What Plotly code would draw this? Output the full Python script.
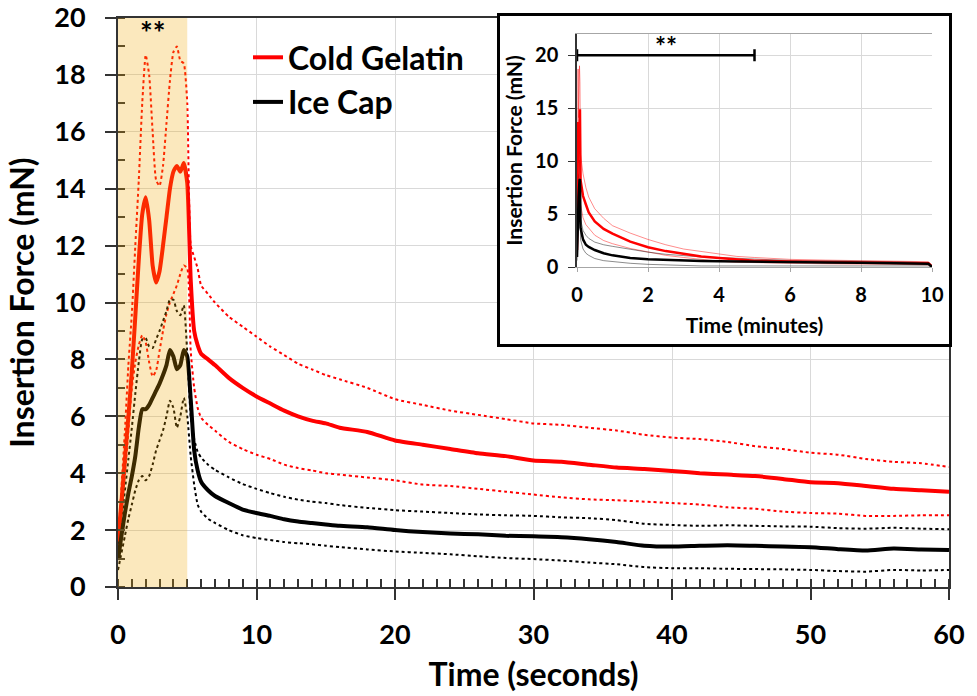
import plotly.graph_objects as go

# ---------------- main chart data (time in seconds) ----------------
time_s = [0, 0.25, 0.5, 0.75, 1.0, 1.25, 1.5, 1.75, 2.0, 2.25, 2.5, 2.75, 3.0, 3.25, 3.5, 3.75,
          4.0, 4.25, 4.5, 4.75, 5.0, 5.25, 5.5, 5.75, 6.0,
          6.5, 7, 8, 9, 10, 11, 12, 13, 14, 15, 16,
          18, 20, 22, 24, 26, 28, 30, 32, 34, 36, 38, 40, 42, 44, 46, 48, 50, 52, 54, 56, 58, 60]

cold_mean = [1.6, 3.0, 4.5, 6.0, 7.6, 9.5, 11.5, 13.1, 13.7, 12.9, 11.3, 10.7, 11.1, 12.0, 13.0, 14.0,
             14.6, 14.8, 14.6, 14.9, 14.2, 10.8, 9.0, 8.5, 8.2,
             8.0, 7.8, 7.35, 7.0, 6.7, 6.45, 6.2, 6.0, 5.85, 5.75, 5.6,
             5.45, 5.15, 5.0, 4.85, 4.7, 4.6, 4.45, 4.4, 4.3, 4.2, 4.15, 4.08, 4.0, 3.95, 3.9, 3.8,
             3.68, 3.65, 3.55, 3.45, 3.4, 3.35]
cold_upper = [1.5, 3.5, 5.5, 7.8, 9.6, 12.0, 14.3, 17.0, 18.7, 18.0, 16.0, 14.3, 14.1, 14.8, 16.3, 17.8,
              18.8, 19.0, 18.5, 18.4, 17.0, 12.0, 11.6, 11.2, 10.6,
              10.3, 10.0, 9.5, 9.15, 8.8, 8.45, 8.15, 7.85, 7.65, 7.45, 7.3,
              7.0, 6.6, 6.4, 6.2, 6.05, 5.9, 5.75, 5.7, 5.6, 5.5, 5.35, 5.25, 5.2, 5.1, 4.95, 4.85,
              4.72, 4.65, 4.5, 4.4, 4.35, 4.22]
cold_lower = [1.2, 2.5, 4.0, 5.5, 7.0, 7.9, 8.5, 8.85, 8.6, 7.9, 7.4, 7.6, 8.3, 9.0, 9.6, 10.0,
              10.3, 10.6, 11.0, 11.3, 11.2, 8.3, 7.0, 6.3, 5.95,
              5.7, 5.5, 5.1, 4.85, 4.65, 4.5, 4.3, 4.18, 4.1, 4.0, 3.95,
              3.85, 3.75, 3.6, 3.55, 3.45, 3.35, 3.25, 3.15, 3.08, 3.05, 3.0, 2.95, 2.9, 2.8, 2.75, 2.65,
              2.6, 2.58, 2.5, 2.5, 2.52, 2.52]
ice_mean = [0.95, 1.8, 2.6, 3.3, 3.9, 4.6, 5.6, 6.25, 6.25, 6.4, 6.65, 6.9, 7.15, 7.45, 7.8, 8.33,
            8.1, 7.65, 7.8, 8.33, 8.1, 6.6, 4.8, 4.1, 3.7,
            3.4, 3.2, 2.95, 2.72, 2.6, 2.5, 2.38, 2.3, 2.25, 2.2, 2.15,
            2.1, 2.0, 1.93, 1.88, 1.85, 1.8, 1.78, 1.75, 1.68, 1.58, 1.45, 1.42, 1.45, 1.47, 1.45, 1.42,
            1.4, 1.33, 1.28, 1.35, 1.32, 1.3]
ice_upper = [1.3, 2.3, 3.4, 4.5, 5.6, 6.8, 7.9, 8.7, 8.75, 8.45, 8.4, 8.7, 9.0, 9.35, 9.7, 10.1,
             10.1, 9.7, 9.55, 9.9, 8.2, 6.0, 5.2, 4.75, 4.55,
             4.3, 4.12, 3.85, 3.62, 3.45, 3.3, 3.17, 3.07, 3.0, 2.95, 2.88,
             2.78, 2.7, 2.65, 2.6, 2.55, 2.52, 2.5, 2.45, 2.42, 2.35, 2.22, 2.18, 2.15, 2.17, 2.15, 2.13,
             2.12, 2.07, 2.05, 2.08, 2.05, 2.03]
ice_lower = [0.6, 1.2, 1.8, 2.4, 2.9, 3.4, 3.75, 3.9, 3.75, 3.9, 4.3, 4.8, 5.15, 5.5, 6.0, 6.55,
             6.3, 5.6, 6.0, 6.65, 6.0, 4.6, 3.6, 2.9, 2.65,
             2.4, 2.25, 2.0, 1.82, 1.72, 1.65, 1.58, 1.54, 1.5, 1.45, 1.4,
             1.32, 1.25, 1.2, 1.15, 1.08, 1.02, 0.98, 0.93, 0.86, 0.8, 0.7, 0.66, 0.66, 0.64, 0.63, 0.62,
             0.6, 0.56, 0.54, 0.6, 0.58, 0.6]

# ---------------- inset data (time in minutes) ----------------
time_min = [0, 0.03, 0.045, 0.07, 0.083, 0.1, 0.17, 0.25, 0.33, 0.5, 0.75, 1.0, 1.5, 2.0, 2.5,
            3.0, 3.5, 4.0, 4.5, 5.0, 6, 7, 8, 9, 9.9, 10]
in_cold_mean = [1.6, 13.7, 10.8, 14.6, 14.9, 8.2, 6.7, 5.9, 5.15, 4.3, 3.6, 3.15, 2.4, 1.87, 1.5,
                1.25, 1.0, 0.85, 0.7, 0.6, 0.52, 0.48, 0.45, 0.4, 0.35, 0.05]
in_cold_upper = [1.5, 18.7, 14.1, 19.0, 17.5, 10.6, 8.8, 7.5, 6.6, 5.5, 4.6, 3.9, 3.2, 2.6, 2.1,
                 1.7, 1.45, 1.2, 1.0, 0.9, 0.72, 0.65, 0.6, 0.55, 0.5, 0.1]
in_cold_lower = [1.2, 8.85, 7.4, 10.3, 11.3, 5.9, 4.65, 4.0, 3.7, 3.0, 2.5, 2.2, 1.75, 1.4, 1.1,
                 0.9, 0.7, 0.55, 0.45, 0.4, 0.35, 0.3, 0.3, 0.25, 0.2, 0.0]
in_ice_mean = [0.95, 6.25, 6.6, 8.2, 8.3, 3.7, 2.6, 2.1, 1.9, 1.6, 1.3, 1.1, 0.85, 0.72, 0.65,
               0.6, 0.57, 0.55, 0.52, 0.5, 0.45, 0.42, 0.4, 0.35, 0.3, 0.0]
in_ice_upper = [1.3, 8.75, 8.4, 10.1, 9.9, 4.5, 3.45, 3.0, 2.7, 2.35, 2.1, 1.95, 1.65, 1.4, 1.2,
                1.05, 0.95, 0.9, 0.8, 0.75, 0.62, 0.58, 0.55, 0.5, 0.4, 0.05]
in_ice_lower = [0.6, 3.8, 4.3, 6.4, 6.6, 2.6, 1.7, 1.3, 1.1, 0.8, 0.6, 0.5, 0.35, 0.25, 0.18,
                0.12, 0.1, 0.1, 0.1, 0.1, 0.1, 0.12, 0.15, 0.12, 0.1, 0.0]

sig_center_min = [2.5]
sig_level = [20]
sig_half_span = [2.5]

main_x_ticks = [0, 10, 20, 30, 40, 50, 60]
main_y_ticks = [0, 2, 4, 6, 8, 10, 12, 14, 16, 18, 20]
inset_x_ticks = [0, 2, 4, 6, 8, 10]
inset_y_ticks = [0, 5, 10, 15, 20]

RED = "#FF0000"
BLACK = "#000000"
FONT = "Lato"

fig = go.Figure()

spl = dict(shape="spline", smoothing=0.5)
fig.add_trace(go.Scatter(x=time_s, y=cold_upper, mode="lines", showlegend=False,
                         line=dict(color=RED, width=2, dash="dot", **spl)))
fig.add_trace(go.Scatter(x=time_s, y=cold_lower, mode="lines", showlegend=False,
                         line=dict(color=RED, width=2, dash="dot", **spl)))
fig.add_trace(go.Scatter(x=time_s, y=ice_upper, mode="lines", showlegend=False,
                         line=dict(color=BLACK, width=2, dash="dot", **spl)))
fig.add_trace(go.Scatter(x=time_s, y=ice_lower, mode="lines", showlegend=False,
                         line=dict(color=BLACK, width=2, dash="dot", **spl)))
fig.add_trace(go.Scatter(x=time_s, y=cold_mean, mode="lines", name="Cold Gelatin",
                         line=dict(color=RED, width=4, **spl)))
fig.add_trace(go.Scatter(x=time_s, y=ice_mean, mode="lines", name="Ice Cap",
                         line=dict(color=BLACK, width=4, **spl)))

for ys, col, w in [(in_cold_upper, "rgba(255,0,0,0.45)", 1),
                   (in_cold_lower, "rgba(255,0,0,0.45)", 1),
                   (in_ice_upper, "rgba(0,0,0,0.45)", 1),
                   (in_ice_lower, "rgba(0,0,0,0.45)", 1),
                   (in_cold_mean, RED, 2.5),
                   (in_ice_mean, BLACK, 2.5)]:
    fig.add_trace(go.Scatter(x=time_min, y=ys, mode="lines", showlegend=False,
                             line=dict(color=col, width=w), xaxis="x3", yaxis="y3"))

fig.add_trace(go.Scatter(x=sig_center_min, y=sig_level, mode="markers", showlegend=False,
                         marker=dict(size=1, color="rgba(0,0,0,0)"),
                         error_x=dict(type="data", array=sig_half_span, color=BLACK,
                                      thickness=2.5, width=6),
                         xaxis="x3", yaxis="y3"))
fig.add_trace(go.Scatter(x=[None], y=[None], showlegend=False, xaxis="x2", yaxis="y2"))

W, H = 977, 696
ML, MR, MT, MB = 118, 20, 10, 109
pw, ph = W - ML - MR, H - MT - MB


def dx(px):
    return (px - ML) / pw


def dy(px):
    return (H - MB - px) / ph


tickfont = dict(family=FONT, size=27, color="black", weight="bold")
titlefont = dict(family=FONT, size=32, color="black", weight="bold")
in_tickfont = dict(family=FONT, size=20, color="black", weight="bold")
in_titlefont = dict(family=FONT, size=21, color="black", weight="bold")

fig.update_layout(
    width=W, height=H,
    margin=dict(l=ML, r=MR, t=MT, b=MB, autoexpand=False),
    paper_bgcolor="white", plot_bgcolor="white",
    font=dict(family=FONT, color="black"),
    xaxis=dict(domain=[0, dx(949)], range=[0, 60], tickvals=main_x_ticks, automargin=False,
               showgrid=True, gridcolor="#d9d9d9", gridwidth=1,
               showline=True, linecolor="#333", linewidth=2, mirror=True,
               ticks="outside", ticklen=11, tickwidth=2, tickcolor="#333",
               minor=dict(dtick=1, ticks="inside", ticklen=8, tickwidth=1.5, tickcolor="#333", showgrid=False),
               tickfont=tickfont, ticklabelstandoff=12, zeroline=False,
               title=dict(text="Time (seconds)", font=titlefont, standoff=14)),
    yaxis=dict(domain=[0, dy(18)], range=[0, 20], tickvals=main_y_ticks, automargin=False,
               showgrid=True, gridcolor="#d9d9d9", gridwidth=1,
               showline=True, linecolor="#333", linewidth=2, mirror=True,
               ticks="outside", ticklen=11, tickwidth=2, tickcolor="#333",
               minor=dict(dtick=1, ticks="inside", ticklen=7, tickwidth=1.5, tickcolor="#333", showgrid=False),
               tickfont=tickfont, ticklabelstandoff=14, zeroline=False,
               title=dict(text="Insertion Force (mN)", font=titlefont, standoff=10)),
    xaxis2=dict(domain=[dx(497), dx(952)], range=[0, 1], anchor="y2", automargin=False,
                showgrid=False, zeroline=False, showticklabels=False, showline=False, ticks=""),
    yaxis2=dict(domain=[dy(347), dy(13)], range=[0, 1], anchor="x2", automargin=False,
                showgrid=False, zeroline=False, showticklabels=False, showline=False, ticks=""),
    xaxis3=dict(domain=[dx(577), dx(932)], range=[0, 10], anchor="y3", tickvals=inset_x_ticks,
                automargin=False,
                showgrid=True, gridcolor="#d9d9d9", showline=True, linecolor="#a6a6a6", mirror=True,
                ticks="outside", ticklen=4, tickcolor="#a6a6a6", zeroline=False,
                tickfont=in_tickfont, ticklabelstandoff=6,
                title=dict(text="Time (minutes)", font=in_titlefont, standoff=13)),
    yaxis3=dict(domain=[dy(267), dy(34)], range=[0, 22], anchor="x3", tickvals=inset_y_ticks,
                automargin=False,
                showgrid=True, gridcolor="#d9d9d9", showline=True, linecolor="#333", linewidth=1.5,
                ticks="outside", ticklen=7, tickcolor="#333", zeroline=False,
                tickfont=in_tickfont, ticklabelstandoff=6,
                title=dict(text="Insertion Force (mN)", font=in_titlefont, standoff=7)),
    legend=dict(x=dx(248), y=dy(30), xanchor="left", yanchor="top",
                bgcolor="rgba(0,0,0,0)", font=dict(family=FONT, size=32, color="black", weight="bold"),
                itemwidth=30, tracegroupgap=0),
)

fig.add_shape(type="rect", xref="x", yref="y", x0=0, x1=5, y0=0, y1=20,
              fillcolor="rgba(240,165,0,0.26)", line=dict(width=0), layer="above")
fig.add_shape(type="rect", xref="x2", yref="y2", x0=0, x1=1, y0=0, y1=1,
              fillcolor="white", line=dict(color="black", width=6), layer="below")

fig.add_annotation(x=2.5, y=19.5, xref="x", yref="y", text="**", showarrow=False,
                   font=dict(family=FONT, size=30, color="black", weight="bold"))
fig.add_annotation(x=2.5, y=20.9, xref="x3", yref="y3", text="**", showarrow=False,
                   font=dict(family=FONT, size=26, color="black", weight="bold"))

fig.write_html("out.html")
